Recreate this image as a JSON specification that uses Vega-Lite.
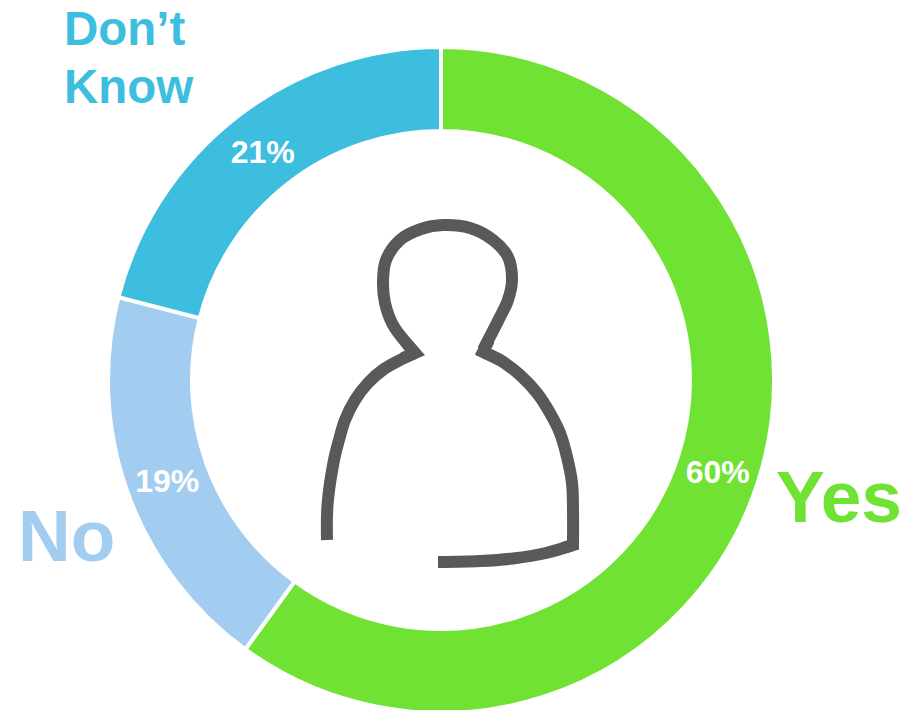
{
  "$schema": "https://vega.github.io/schema/vega-lite/v6.json",
  "width": 923,
  "height": 710,
  "padding": 0,
  "autosize": "none",
  "background": "white",
  "view": {"stroke": null},
  "datasets": {
    "shares": [
      {"answer": "Yes", "share": 60, "label": "60%", "rank": 1},
      {"answer": "No", "share": 19, "label": "19%", "rank": 2},
      {"answer": "Don’t Know", "share": 21, "label": "21%", "rank": 3}
    ],
    "names": [
      {"answer": "Yes", "name": "Yes", "x": 335, "y": -142},
      {"answer": "No", "name": "No", "x": -423, "y": -181},
      {"answer": "Don’t Know", "name": "Don’t", "x": -377, "y": 335},
      {"answer": "Don’t Know", "name": "Know", "x": -377, "y": 277}
    ],
    "figure": [
      {"part": "left side", "step": 1, "x": -114, "y": -160},
      {"part": "left side", "step": 2, "x": -113.5, "y": -125},
      {"part": "left side", "step": 3, "x": -107, "y": -80},
      {"part": "left side", "step": 4, "x": -102, "y": -60},
      {"part": "left side", "step": 5, "x": -96, "y": -40},
      {"part": "left side", "step": 6, "x": -86, "y": -20},
      {"part": "left side", "step": 7, "x": -73, "y": -3},
      {"part": "left side", "step": 8, "x": -57, "y": 11},
      {"part": "left side", "step": 9, "x": -39, "y": 21},
      {"part": "left side", "step": 10, "x": -26, "y": 27},
      {"part": "head", "step": 11, "x": -26, "y": 27},
      {"part": "head", "step": 12, "x": -33, "y": 35},
      {"part": "head", "step": 13, "x": -48, "y": 55},
      {"part": "head", "step": 14, "x": -56, "y": 77},
      {"part": "head", "step": 15, "x": -58, "y": 98},
      {"part": "head", "step": 16, "x": -55, "y": 120},
      {"part": "head", "step": 17, "x": -41, "y": 140},
      {"part": "head", "step": 18, "x": -20, "y": 151},
      {"part": "head", "step": 19, "x": 2, "y": 155},
      {"part": "head", "step": 20, "x": 29, "y": 152},
      {"part": "head", "step": 21, "x": 52, "y": 140},
      {"part": "head", "step": 22, "x": 67, "y": 123},
      {"part": "head", "step": 23, "x": 71, "y": 100},
      {"part": "head", "step": 24, "x": 67, "y": 80},
      {"part": "head", "step": 25, "x": 59, "y": 63},
      {"part": "head", "step": 26, "x": 42, "y": 30},
      {"part": "right side", "step": 27, "x": 42, "y": 28},
      {"part": "right side", "step": 28, "x": 59, "y": 20},
      {"part": "right side", "step": 29, "x": 79, "y": 5},
      {"part": "right side", "step": 30, "x": 96, "y": -13},
      {"part": "right side", "step": 31, "x": 109, "y": -33},
      {"part": "right side", "step": 32, "x": 119, "y": -53},
      {"part": "right side", "step": 33, "x": 126, "y": -77},
      {"part": "right side", "step": 34, "x": 131, "y": -103},
      {"part": "right side", "step": 35, "x": 132, "y": -130},
      {"part": "right side", "step": 36, "x": 132, "y": -165},
      {"part": "hem", "step": 37, "x": 132, "y": -165},
      {"part": "hem", "step": 38, "x": 105, "y": -173},
      {"part": "hem", "step": 39, "x": 72, "y": -178.5},
      {"part": "hem", "step": 40, "x": 39, "y": -181},
      {"part": "hem", "step": 41, "x": -3, "y": -182}
    ],
    "corners": [
      {"part": "left neck", "step": 1, "x": -38, "y": 22},
      {"part": "left neck", "step": 2, "x": -26, "y": 27},
      {"part": "left neck", "step": 3, "x": -33, "y": 35},
      {"part": "right neck", "step": 1, "x": 48, "y": 40},
      {"part": "right neck", "step": 2, "x": 42, "y": 28},
      {"part": "right neck", "step": 3, "x": 59, "y": 20},
      {"part": "hem corner", "step": 1, "x": 132, "y": -155},
      {"part": "hem corner", "step": 2, "x": 132, "y": -165},
      {"part": "hem corner", "step": 3, "x": 122, "y": -168}
    ]
  },
  "layer": [
    {
      "data": {"name": "shares"},
      "mark": {"type": "arc", "innerRadius": 249, "outerRadius": 333, "stroke": "white", "strokeWidth": 4},
      "encoding": {
        "x": {"datum": 0, "type": "quantitative", "scale": {"domain": [-441, 482], "range": [0, 923], "nice": false, "zero": false}, "axis": null},
        "y": {"datum": 0, "type": "quantitative", "scale": {"domain": [-330, 380], "range": [710, 0], "nice": false, "zero": false}, "axis": null},
        "theta": {"field": "share", "type": "quantitative", "stack": true, "scale": {"domain": [0, 100]}},
        "order": {"field": "rank"},
        "color": {
          "field": "answer",
          "type": "nominal",
          "legend": null,
          "scale": {"domain": ["Yes", "No", "Don’t Know"], "range": ["#6FE234", "#A3CDF0", "#3EBEDF"]}
        }
      }
    },
    {
      "data": {"name": "shares"},
      "mark": {"type": "text", "radius": 291, "dy": 3, "font": "Liberation Sans", "fontWeight": "bold", "fontSize": 32, "fill": "white", "align": "center", "baseline": "middle"},
      "encoding": {
        "x": {"datum": 0, "type": "quantitative", "scale": {"domain": [-441, 482], "range": [0, 923], "nice": false, "zero": false}, "axis": null},
        "y": {"datum": 0, "type": "quantitative", "scale": {"domain": [-330, 380], "range": [710, 0], "nice": false, "zero": false}, "axis": null},
        "theta": {"field": "share", "type": "quantitative", "stack": true, "scale": {"domain": [0, 100]}},
        "order": {"field": "rank"},
        "text": {"field": "label"}
      }
    },
    {
      "data": {"name": "names"},
      "transform": [{"filter": "datum.answer !== 'Don’t Know'"}],
      "mark": {"type": "text", "font": "Liberation Sans", "fontWeight": "bold", "fontSize": 73, "align": "left", "baseline": "alphabetic"},
      "encoding": {
        "x": {"field": "x", "type": "quantitative", "scale": {"domain": [-441, 482], "range": [0, 923], "nice": false, "zero": false}, "axis": null},
        "y": {"field": "y", "type": "quantitative", "scale": {"domain": [-330, 380], "range": [710, 0], "nice": false, "zero": false}, "axis": null},
        "text": {"field": "name"},
        "color": {"field": "answer", "type": "nominal", "legend": null}
      }
    },
    {
      "data": {"name": "names"},
      "transform": [{"filter": "datum.answer === 'Don’t Know'"}],
      "mark": {"type": "text", "font": "Liberation Sans", "fontWeight": "bold", "fontSize": 47.5, "align": "left", "baseline": "alphabetic"},
      "encoding": {
        "x": {"field": "x", "type": "quantitative", "scale": {"domain": [-441, 482], "range": [0, 923], "nice": false, "zero": false}, "axis": null},
        "y": {"field": "y", "type": "quantitative", "scale": {"domain": [-330, 380], "range": [710, 0], "nice": false, "zero": false}, "axis": null},
        "text": {"field": "name"},
        "color": {"field": "answer", "type": "nominal", "legend": null}
      }
    },
    {
      "data": {"name": "figure"},
      "mark": {"type": "line", "interpolate": "catmull-rom", "stroke": "#595959", "strokeWidth": 12, "strokeCap": "butt"},
      "encoding": {
        "x": {"field": "x", "type": "quantitative", "scale": {"domain": [-441, 482], "range": [0, 923], "nice": false, "zero": false}, "axis": null},
        "y": {"field": "y", "type": "quantitative", "scale": {"domain": [-330, 380], "range": [710, 0], "nice": false, "zero": false}, "axis": null},
        "detail": {"field": "part"},
        "order": {"field": "step"}
      }
    },
    {
      "data": {"name": "corners"},
      "mark": {"type": "line", "interpolate": "linear", "stroke": "#595959", "strokeWidth": 12, "strokeJoin": "miter", "strokeMiterLimit": 10, "strokeCap": "butt"},
      "encoding": {
        "x": {"field": "x", "type": "quantitative", "scale": {"domain": [-441, 482], "range": [0, 923], "nice": false, "zero": false}, "axis": null},
        "y": {"field": "y", "type": "quantitative", "scale": {"domain": [-330, 380], "range": [710, 0], "nice": false, "zero": false}, "axis": null},
        "detail": {"field": "part"},
        "order": {"field": "step"}
      }
    }
  ]
}
